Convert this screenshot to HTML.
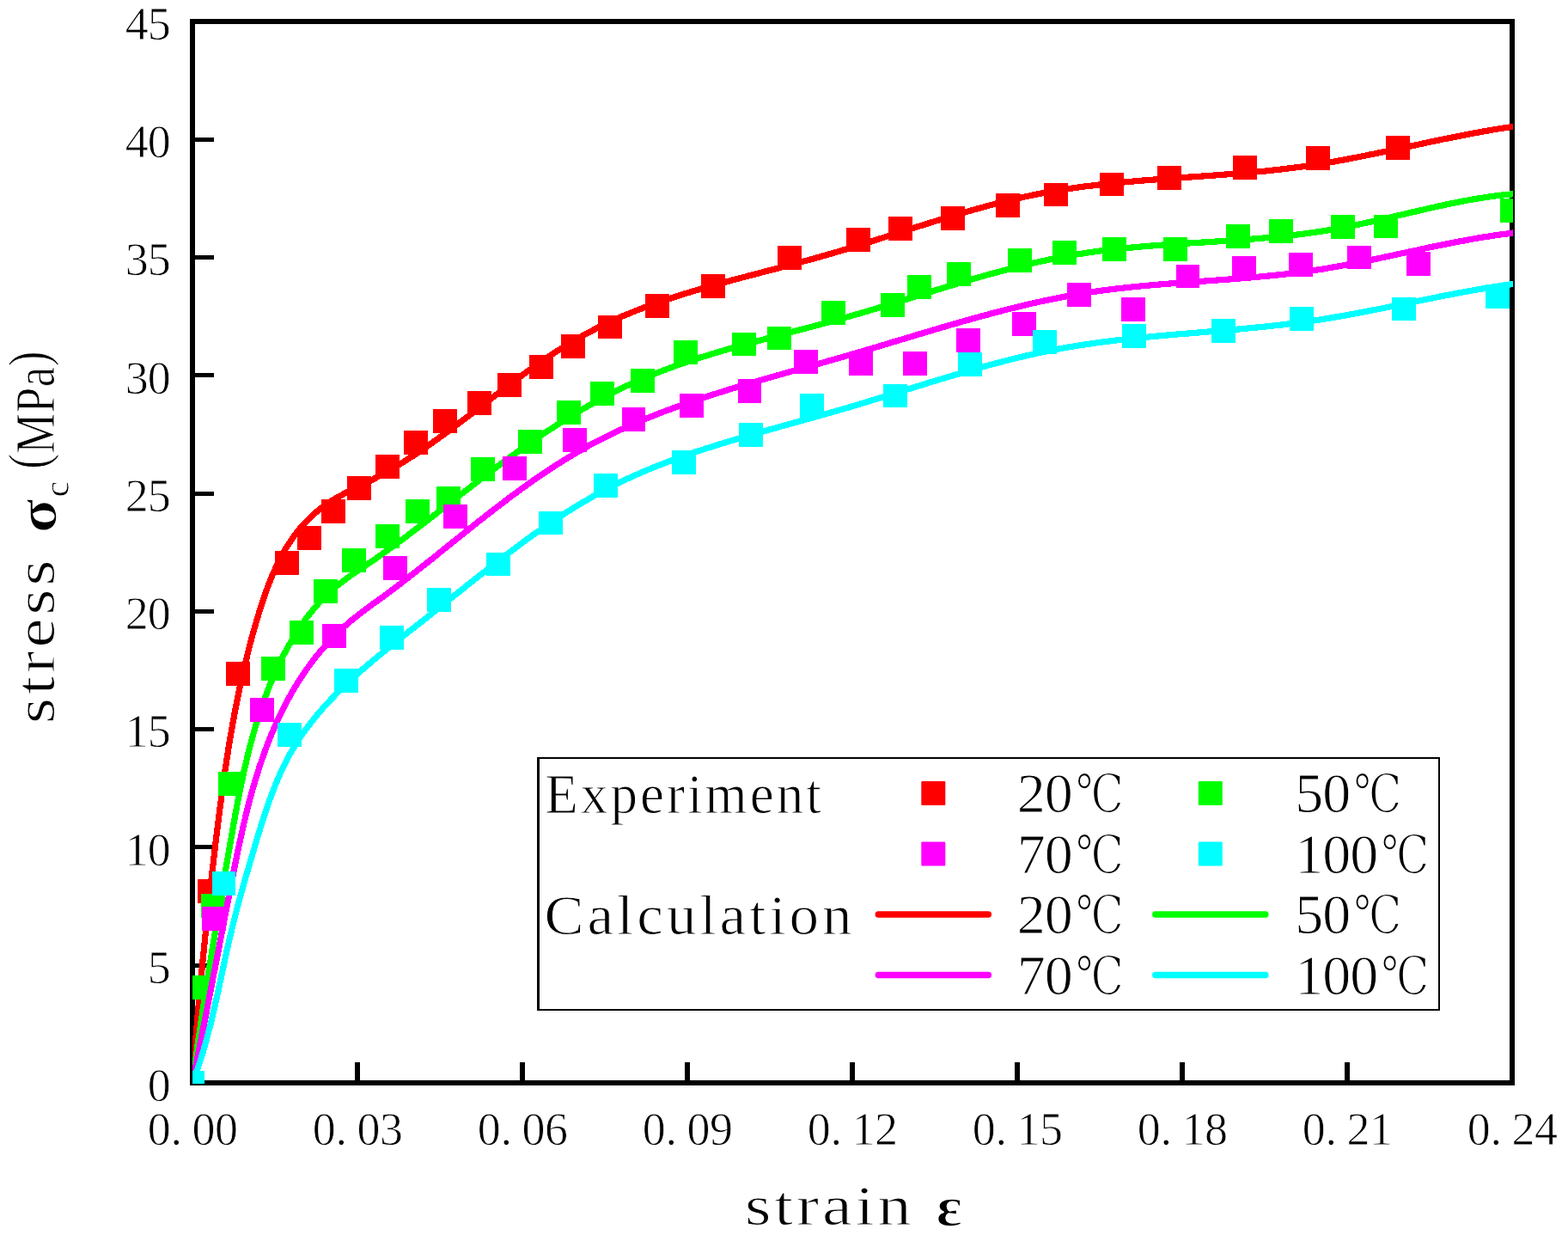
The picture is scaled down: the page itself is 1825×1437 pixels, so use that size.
<!DOCTYPE html>
<html lang="en">
<head>
<meta charset="utf-8">
<title>Stress-strain curves: experiment vs calculation</title>
<style>
html,body{margin:0;padding:0;background:#fff;}
body{width:1825px;height:1437px;overflow:hidden;}
svg{display:block;}
text{font-family:"Liberation Serif", "Noto Serif CJK SC", serif;fill:#000;font-kerning:none;}
.t{font-size:54px;}
.a{font-size:66px;}
.g{font-weight:bold;}
.d{font-family:"DejaVu Serif", "Noto Serif CJK SC", serif;font-size:62px;stroke-width:1.8px;}
</style>
</head>
<body>
<svg width="1825" height="1437" viewBox="0 0 1825 1437">
<rect x="0" y="0" width="1825" height="1437" fill="#fff"/>
<defs><clipPath id="c"><rect x="224" y="25" width="1537" height="1236"/></clipPath></defs>
<g stroke="#000" stroke-width="6" fill="none" shape-rendering="crispEdges">
<rect x="224" y="25" width="1536" height="1235"/>
<path d="M416,1260V1236M608,1260V1236M800,1260V1236M992,1260V1236M1184,1260V1236M1376,1260V1236M1568,1260V1236"/>
<path d="M224,1121h25v5h-25zM224,983h25v5h-25zM224,846h25v5h-25zM224,709h25v5h-25zM224,572h25v5h-25zM224,434h25v5h-25zM224,297h25v5h-25zM224,160h25v5h-25z" fill="#000" stroke="none"/>
</g>
<g class="t" stroke="#fff" stroke-width="0.8">
<text x="171.7" y="1281.0">0</text>
<text x="171.7" y="1143.8">5</text>
<text x="145.7 171.7" y="1006.6">10</text>
<text x="145.7 171.7" y="869.3">15</text>
<text x="145.7 171.7" y="732.1">20</text>
<text x="145.7 171.7" y="594.9">25</text>
<text x="145.7 171.7" y="457.7">30</text>
<text x="145.7 171.7" y="320.4">35</text>
<text x="145.7 171.7" y="183.2">40</text>
<text x="145.7 171.7" y="46.0">45</text>
<text x="171.7 198.4 223.5 249.9" y="1331.5">0.00</text>
<text x="363.7 390.4 415.5 441.9" y="1331.5">0.03</text>
<text x="555.7 582.4 607.5 633.9" y="1331.5">0.06</text>
<text x="747.7 774.4 799.5 825.9" y="1331.5">0.09</text>
<text x="939.7 966.4 991.5 1017.9" y="1331.5">0.12</text>
<text x="1131.7 1158.4 1183.5 1209.9" y="1331.5">0.15</text>
<text x="1323.7 1350.4 1375.5 1401.9" y="1331.5">0.18</text>
<text x="1515.7 1542.4 1567.5 1593.9" y="1331.5">0.21</text>
<text x="1707.7 1734.4 1759.5 1785.9" y="1331.5">0.24</text>
</g>
<text transform="translate(870.0,1425.0) scale(1.1853,1)" x="-2.64" y="0" style="font-size:66px;letter-spacing:3.37px;" stroke="#fff" stroke-width="1.0">strain</text>
<text transform="translate(1091.5,1425.5) scale(1.1012,1)" x="-1.79" y="0" style="font-size:65px;letter-spacing:2.72px;font-weight:bold;" stroke="#fff" stroke-width="1.5">ε</text>
<text transform="translate(62.5,839.0) rotate(-90) scale(1.1617,1)" x="-2.64" y="0" style="font-size:66px;letter-spacing:3.44px;" stroke="#fff" stroke-width="1.0">stress</text>
<text transform="translate(64.5,617.5) rotate(-90) scale(1.1354,1)" x="-2.44" y="0" style="font-size:65px;letter-spacing:2.64px;font-weight:bold;" stroke="#fff" stroke-width="1.5">σ</text>
<text transform="translate(79.6,577.0) rotate(-90) scale(1.0095,1)" x="-1.57" y="0" style="font-size:42px;letter-spacing:2.97px;" stroke="#fff" stroke-width="0.8">c</text>
<text transform="translate(62.6,543.6) rotate(-90) scale(0.8018,1)" x="-2.81" y="0" style="font-size:66px;letter-spacing:0.62px;" stroke="#fff" stroke-width="1.0" dy="-7.5 7.5 0 0 -7.5">(MPa)</text>
<g clip-path="url(#c)" shape-rendering="crispEdges">
<path d="M224.0,1260.0 L224.5,1253.2 L225.0,1246.4 L225.5,1239.6 L226.0,1232.8 L226.5,1226.0 L227.0,1219.2 L227.6,1212.4 L228.1,1205.5 L228.7,1198.7 L229.2,1191.9 L229.8,1185.1 L230.4,1178.2 L231.0,1171.4 L231.6,1164.6 L232.2,1157.7 L232.8,1150.9 L233.5,1144.1 L234.1,1137.2 L234.8,1130.4 L235.4,1123.6 L236.1,1116.7 L236.8,1109.9 L237.5,1103.1 L238.2,1096.2 L238.9,1089.4 L239.6,1082.6 L240.3,1075.7 L241.0,1068.9 L241.7,1062.1 L242.5,1055.2 L243.2,1048.4 L244.0,1041.6 L244.7,1034.8 L245.5,1028.0 L246.3,1021.1 L247.0,1014.3 L247.8,1007.5 L248.6,1000.7 L249.4,993.9 L250.2,987.1 L251.0,980.3 L251.8,973.5 L252.7,966.8 L253.5,960.0 L254.4,953.2 L255.2,946.4 L256.1,939.7 L257.0,932.9 L257.9,926.1 L258.8,919.4 L259.7,912.6 L260.7,905.9 L261.6,899.1 L262.6,892.4 L263.6,885.7 L264.7,878.9 L265.7,872.2 L266.8,865.5 L267.9,858.7 L269.1,852.0 L270.3,845.3 L271.5,838.6 L272.7,831.9 L274.0,825.2 L275.3,818.5 L276.6,811.8 L278.0,805.1 L279.4,798.4 L280.9,791.7 L282.4,785.0 L283.9,778.3 L285.5,771.6 L287.2,764.9 L288.8,758.2 L290.5,751.5 L292.3,744.9 L294.1,738.2 L296.0,731.5 L297.9,724.8 L299.9,718.2 L301.9,711.5 L304.0,704.9 L306.2,698.2 L308.4,691.6 L310.8,685.1 L313.3,678.6 L315.8,672.2 L318.5,665.8 L321.4,659.6 L324.3,653.4 L327.5,647.4 L330.8,641.4 L334.2,635.6 L337.9,630.0 L341.7,624.4 L345.8,619.1 L350.0,613.9 L354.5,608.8 L359.2,604.0 L364.1,599.4 L369.2,594.9 L374.5,590.7 L380.0,586.7 L385.6,583.0 L391.4,579.5 L397.3,576.2 L403.3,573.0 L409.3,570.0 L415.4,567.0 L421.6,564.0 L427.7,561.0 L433.8,557.9 L439.8,554.8 L445.8,551.5 L451.8,548.2 L457.7,544.8 L463.5,541.3 L469.4,537.7 L475.2,534.0 L480.9,530.3 L486.6,526.5 L492.3,522.7 L498.0,518.8 L503.6,514.8 L509.3,510.8 L514.9,506.8 L520.4,502.7 L526.0,498.6 L531.5,494.4 L537.1,490.3 L542.6,486.1 L548.1,481.9 L553.6,477.7 L559.1,473.5 L564.6,469.2 L570.1,465.0 L575.6,460.8 L581.1,456.6 L586.6,452.4 L592.1,448.3 L597.7,444.1 L603.2,440.0 L608.8,435.9 L614.3,431.9 L619.9,427.9 L625.5,423.9 L631.1,420.0 L636.8,416.2 L642.5,412.4 L648.2,408.6 L653.9,405.0 L659.7,401.4 L665.5,397.9 L671.4,394.4 L677.3,391.1 L683.2,387.8 L689.2,384.7 L695.2,381.6 L701.2,378.6 L707.3,375.7 L713.5,372.9 L719.6,370.1 L725.8,367.4 L732.1,364.8 L738.3,362.3 L744.6,359.8 L751.0,357.4 L757.3,355.1 L763.7,352.8 L770.1,350.6 L776.6,348.4 L783.0,346.2 L789.5,344.2 L796.0,342.1 L802.5,340.1 L809.1,338.1 L815.7,336.2 L822.2,334.3 L828.8,332.4 L835.4,330.6 L842.1,328.8 L848.7,327.0 L855.3,325.2 L862.0,323.4 L868.6,321.7 L875.3,319.9 L882.0,318.2 L888.6,316.4 L895.3,314.7 L902.0,313.0 L908.7,311.2 L915.3,309.5 L922.0,307.7 L928.7,305.9 L935.3,304.1 L942.0,302.3 L948.6,300.5 L955.3,298.6 L961.9,296.7 L968.5,294.8 L975.1,292.8 L981.7,290.9 L988.3,288.9 L994.9,286.9 L1001.5,284.8 L1008.0,282.8 L1014.6,280.7 L1021.1,278.7 L1027.7,276.6 L1034.2,274.5 L1040.8,272.4 L1047.3,270.3 L1053.9,268.3 L1060.4,266.2 L1066.9,264.1 L1073.5,262.1 L1080.0,260.0 L1086.5,258.0 L1093.1,255.9 L1099.6,253.9 L1106.1,252.0 L1112.7,250.0 L1119.2,248.1 L1125.8,246.2 L1132.3,244.3 L1138.9,242.5 L1145.5,240.7 L1152.0,238.9 L1158.6,237.2 L1165.2,235.5 L1171.8,233.8 L1178.4,232.3 L1185.1,230.7 L1191.7,229.2 L1198.4,227.8 L1205.0,226.4 L1211.7,225.1 L1218.4,223.8 L1225.1,222.6 L1231.8,221.5 L1238.5,220.4 L1245.2,219.4 L1252.0,218.4 L1258.8,217.5 L1265.5,216.6 L1272.3,215.8 L1279.1,215.0 L1285.9,214.2 L1292.7,213.5 L1299.5,212.8 L1306.3,212.1 L1313.2,211.5 L1320.0,210.9 L1326.8,210.3 L1333.7,209.8 L1340.5,209.2 L1347.4,208.7 L1354.2,208.2 L1361.1,207.7 L1368.0,207.2 L1374.8,206.7 L1381.7,206.2 L1388.6,205.8 L1395.4,205.3 L1402.3,204.8 L1409.2,204.3 L1416.0,203.8 L1422.9,203.3 L1429.7,202.8 L1436.6,202.2 L1443.4,201.7 L1450.3,201.1 L1457.1,200.5 L1464.0,199.8 L1470.8,199.2 L1477.6,198.5 L1484.4,197.7 L1491.2,197.0 L1498.0,196.2 L1504.8,195.3 L1511.6,194.4 L1518.4,193.5 L1525.1,192.5 L1531.9,191.5 L1538.6,190.4 L1545.4,189.3 L1552.1,188.1 L1558.8,186.9 L1565.5,185.7 L1572.2,184.4 L1578.9,183.1 L1585.6,181.8 L1592.3,180.4 L1599.0,179.1 L1605.7,177.7 L1612.4,176.3 L1619.0,174.9 L1625.7,173.5 L1632.4,172.1 L1639.1,170.6 L1645.8,169.2 L1652.4,167.8 L1659.1,166.3 L1665.8,164.9 L1672.5,163.5 L1679.2,162.1 L1685.9,160.8 L1692.6,159.4 L1699.4,158.1 L1706.1,156.8 L1712.8,155.5 L1719.6,154.2 L1726.3,153.0 L1733.1,151.8 L1739.9,150.6 L1746.7,149.5 L1753.5,148.5 L1760.3,147.4 L1767.1,146.5" fill="none" stroke="#ff0000" stroke-width="7.2" stroke-linejoin="round"/>
<path d="M210.1,1246.1h27.8v27.8h-27.8zM229.9,1022.9h27.8v27.8h-27.8zM263.1,770.2h27.8v27.8h-27.8zM320.1,641.1h27.8v27.8h-27.8zM346.2,612.0h27.8v27.8h-27.8zM373.7,580.9h27.8v27.8h-27.8zM404.1,554.2h27.8v27.8h-27.8zM437.0,529.2h27.8v27.8h-27.8zM470.2,501.2h27.8v27.8h-27.8zM504.1,476.2h27.8v27.8h-27.8zM544.1,454.7h27.8v27.8h-27.8zM579.3,434.0h27.8v27.8h-27.8zM616.0,412.9h27.8v27.8h-27.8zM653.1,388.8h27.8v27.8h-27.8zM696.0,366.6h27.8v27.8h-27.8zM751.0,342.0h27.8v27.8h-27.8zM816.1,319.0h27.8v27.8h-27.8zM905.3,286.2h27.8v27.8h-27.8zM985.1,264.7h27.8v27.8h-27.8zM1034.1,252.1h27.8v27.8h-27.8zM1095.0,240.0h27.8v27.8h-27.8zM1159.0,225.1h27.8v27.8h-27.8zM1215.1,212.6h27.8v27.8h-27.8zM1280.2,200.6h27.8v27.8h-27.8zM1347.1,193.0h27.8v27.8h-27.8zM1435.2,181.0h27.8v27.8h-27.8zM1520.2,170.1h27.8v27.8h-27.8zM1613.2,158.0h27.8v27.8h-27.8z" fill="#ff0000"/>
<path d="M224.0,1260.0 L224.9,1253.5 L225.8,1246.9 L226.7,1240.4 L227.6,1233.9 L228.5,1227.4 L229.4,1220.9 L230.3,1214.4 L231.2,1207.9 L232.2,1201.4 L233.1,1194.9 L234.1,1188.4 L235.1,1182.0 L236.0,1175.5 L237.0,1169.0 L238.0,1162.6 L239.0,1156.1 L240.0,1149.7 L241.0,1143.2 L242.0,1136.8 L243.0,1130.3 L244.0,1123.9 L245.1,1117.5 L246.1,1111.0 L247.1,1104.6 L248.2,1098.2 L249.2,1091.7 L250.3,1085.3 L251.4,1078.9 L252.4,1072.4 L253.5,1066.0 L254.6,1059.5 L255.6,1053.1 L256.7,1046.7 L257.8,1040.2 L258.9,1033.8 L260.0,1027.3 L261.1,1020.9 L262.2,1014.4 L263.3,1007.9 L264.5,1001.5 L265.6,995.0 L266.7,988.5 L267.8,982.0 L269.0,975.6 L270.1,969.1 L271.2,962.6 L272.4,956.1 L273.6,949.6 L274.8,943.1 L276.0,936.6 L277.2,930.1 L278.5,923.7 L279.8,917.2 L281.2,910.7 L282.5,904.3 L283.9,897.8 L285.4,891.4 L286.9,885.0 L288.4,878.6 L290.0,872.2 L291.6,865.9 L293.3,859.6 L295.1,853.2 L296.9,846.9 L298.8,840.7 L300.7,834.4 L302.7,828.2 L304.8,822.0 L307.0,815.9 L309.2,809.8 L311.5,803.7 L313.9,797.6 L316.4,791.6 L319.0,785.6 L321.6,779.6 L324.4,773.7 L327.2,767.9 L330.2,762.0 L333.2,756.3 L336.4,750.5 L339.7,744.9 L343.1,739.3 L346.6,733.7 L350.2,728.3 L353.9,723.0 L357.8,717.7 L361.8,712.6 L366.0,707.6 L370.2,702.7 L374.7,697.9 L379.2,693.3 L384.0,688.8 L388.9,684.5 L393.9,680.3 L399.1,676.3 L404.4,672.4 L409.8,668.6 L415.3,664.9 L420.8,661.2 L426.3,657.5 L431.7,653.8 L437.2,650.1 L442.5,646.3 L447.9,642.5 L453.2,638.7 L458.5,634.8 L463.8,631.0 L469.1,627.1 L474.3,623.2 L479.5,619.2 L484.7,615.3 L489.9,611.3 L495.1,607.4 L500.3,603.4 L505.4,599.4 L510.6,595.4 L515.7,591.4 L520.9,587.4 L526.0,583.4 L531.2,579.4 L536.3,575.4 L541.5,571.4 L546.7,567.4 L551.9,563.4 L557.0,559.4 L562.3,555.4 L567.5,551.5 L572.7,547.5 L578.0,543.6 L583.3,539.6 L588.6,535.7 L593.9,531.9 L599.2,528.0 L604.5,524.2 L609.9,520.4 L615.3,516.6 L620.7,512.8 L626.1,509.1 L631.5,505.4 L637.0,501.8 L642.5,498.2 L648.0,494.6 L653.5,491.1 L659.1,487.6 L664.7,484.1 L670.3,480.8 L675.9,477.4 L681.5,474.1 L687.2,470.9 L692.9,467.7 L698.6,464.6 L704.4,461.5 L710.2,458.5 L716.0,455.5 L721.8,452.7 L727.7,449.8 L733.6,447.1 L739.5,444.4 L745.4,441.8 L751.4,439.3 L757.4,436.8 L763.5,434.4 L769.5,432.0 L775.6,429.7 L781.7,427.4 L787.8,425.2 L794.0,423.1 L800.1,421.0 L806.3,418.9 L812.5,416.9 L818.8,414.9 L825.0,413.0 L831.3,411.1 L837.5,409.2 L843.8,407.3 L850.1,405.5 L856.4,403.7 L862.7,402.0 L869.1,400.2 L875.4,398.5 L881.7,396.8 L888.1,395.1 L894.5,393.4 L900.8,391.7 L907.2,390.0 L913.5,388.4 L919.9,386.7 L926.3,385.0 L932.7,383.4 L939.0,381.7 L945.4,380.0 L951.8,378.3 L958.1,376.6 L964.5,374.9 L970.8,373.2 L977.2,371.4 L983.5,369.6 L989.9,367.8 L996.2,366.0 L1002.5,364.2 L1008.8,362.3 L1015.1,360.4 L1021.4,358.5 L1027.7,356.6 L1034.0,354.7 L1040.3,352.8 L1046.5,350.9 L1052.8,348.9 L1059.1,347.0 L1065.3,345.0 L1071.6,343.1 L1077.9,341.1 L1084.1,339.2 L1090.4,337.3 L1096.7,335.4 L1102.9,333.5 L1109.2,331.6 L1115.5,329.7 L1121.7,327.8 L1128.0,326.0 L1134.3,324.1 L1140.5,322.3 L1146.8,320.5 L1153.1,318.8 L1159.4,317.1 L1165.7,315.4 L1172.0,313.7 L1178.3,312.1 L1184.6,310.5 L1190.9,308.9 L1197.3,307.4 L1203.6,305.9 L1209.9,304.5 L1216.3,303.1 L1222.7,301.7 L1229.1,300.4 L1235.4,299.2 L1241.8,298.0 L1248.3,296.9 L1254.7,295.8 L1261.1,294.8 L1267.6,293.8 L1274.0,292.9 L1280.5,292.0 L1287.0,291.2 L1293.5,290.5 L1300.0,289.7 L1306.5,289.0 L1313.0,288.4 L1319.6,287.8 L1326.1,287.2 L1332.6,286.6 L1339.2,286.1 L1345.7,285.6 L1352.3,285.1 L1358.9,284.6 L1365.4,284.2 L1372.0,283.8 L1378.6,283.3 L1385.2,282.9 L1391.7,282.5 L1398.3,282.1 L1404.9,281.7 L1411.5,281.3 L1418.1,280.8 L1424.6,280.4 L1431.2,280.0 L1437.8,279.5 L1444.4,279.1 L1450.9,278.6 L1457.5,278.1 L1464.0,277.6 L1470.6,277.0 L1477.1,276.4 L1483.7,275.8 L1490.2,275.2 L1496.8,274.5 L1503.3,273.8 L1509.8,273.0 L1516.3,272.2 L1522.8,271.3 L1529.3,270.4 L1535.7,269.5 L1542.2,268.5 L1548.7,267.4 L1555.1,266.3 L1561.5,265.1 L1567.9,263.9 L1574.4,262.6 L1580.7,261.3 L1587.1,259.9 L1593.5,258.5 L1599.9,257.1 L1606.3,255.7 L1612.7,254.2 L1619.0,252.7 L1625.4,251.2 L1631.8,249.7 L1638.1,248.2 L1644.5,246.7 L1650.9,245.3 L1657.3,243.8 L1663.6,242.3 L1670.0,240.9 L1676.4,239.5 L1682.8,238.1 L1689.2,236.8 L1695.7,235.5 L1702.1,234.2 L1708.5,233.0 L1715.0,231.9 L1721.5,230.8 L1727.9,229.8 L1734.4,228.8 L1741.0,227.9 L1747.5,227.1 L1754.1,226.4 L1760.6,225.8 L1767.2,225.2" fill="none" stroke="#00ff00" stroke-width="7.2" stroke-linejoin="round"/>
<path d="M210.1,1246.1h27.8v27.8h-27.8zM216.1,1134.9h27.8v27.8h-27.8zM234.0,1039.9h27.8v27.8h-27.8zM253.8,898.2h27.8v27.8h-27.8zM303.7,764.0h27.8v27.8h-27.8zM337.2,722.2h27.8v27.8h-27.8zM365.3,674.0h27.8v27.8h-27.8zM398.2,638.1h27.8v27.8h-27.8zM437.0,610.0h27.8v27.8h-27.8zM472.3,580.9h27.8v27.8h-27.8zM508.0,566.1h27.8v27.8h-27.8zM548.0,532.1h27.8v27.8h-27.8zM603.1,500.1h27.8v27.8h-27.8zM648.2,466.1h27.8v27.8h-27.8zM687.3,444.0h27.8v27.8h-27.8zM734.0,428.9h27.8v27.8h-27.8zM784.1,396.0h27.8v27.8h-27.8zM852.2,386.5h27.8v27.8h-27.8zM893.2,379.5h27.8v27.8h-27.8zM956.2,350.0h27.8v27.8h-27.8zM1025.1,341.1h27.8v27.8h-27.8zM1056.2,320.1h27.8v27.8h-27.8zM1102.2,305.1h27.8v27.8h-27.8zM1173.1,289.1h27.8v27.8h-27.8zM1225.2,280.1h27.8v27.8h-27.8zM1283.1,276.2h27.8v27.8h-27.8zM1354.1,276.2h27.8v27.8h-27.8zM1427.1,261.0h27.8v27.8h-27.8zM1477.1,255.1h27.8v27.8h-27.8zM1549.2,250.1h27.8v27.8h-27.8zM1599.1,249.5h27.8v27.8h-27.8zM1745.9,231.1h27.8v27.8h-27.8z" fill="#00ff00"/>
<path d="M224.0,1260.0 L225.3,1253.7 L226.5,1247.3 L227.8,1241.0 L229.0,1234.7 L230.3,1228.4 L231.5,1222.1 L232.7,1215.8 L234.0,1209.5 L235.2,1203.3 L236.4,1197.0 L237.7,1190.8 L238.9,1184.5 L240.1,1178.3 L241.3,1172.0 L242.6,1165.8 L243.8,1159.5 L245.0,1153.3 L246.2,1147.1 L247.4,1140.8 L248.6,1134.6 L249.9,1128.4 L251.1,1122.1 L252.3,1115.9 L253.5,1109.7 L254.7,1103.4 L255.9,1097.2 L257.1,1091.0 L258.3,1084.7 L259.5,1078.5 L260.7,1072.2 L261.9,1065.9 L263.1,1059.7 L264.3,1053.4 L265.6,1047.1 L266.8,1040.8 L268.0,1034.5 L269.2,1028.2 L270.4,1021.9 L271.7,1015.6 L272.9,1009.2 L274.2,1002.9 L275.5,996.6 L276.8,990.3 L278.1,984.0 L279.5,977.7 L280.9,971.4 L282.3,965.1 L283.7,958.8 L285.2,952.6 L286.7,946.3 L288.3,940.1 L289.9,933.8 L291.5,927.6 L293.2,921.4 L295.0,915.3 L296.8,909.1 L298.6,903.0 L300.6,896.9 L302.5,890.8 L304.6,884.7 L306.7,878.7 L308.8,872.7 L311.1,866.8 L313.4,860.8 L315.8,854.9 L318.2,849.1 L320.8,843.2 L323.4,837.4 L326.1,831.7 L328.9,826.0 L331.8,820.3 L334.8,814.7 L337.8,809.1 L341.0,803.6 L344.3,798.1 L347.6,792.7 L351.1,787.3 L354.6,782.0 L358.3,776.8 L362.0,771.7 L365.8,766.6 L369.8,761.6 L373.8,756.8 L378.0,752.0 L382.2,747.3 L386.6,742.7 L391.0,738.2 L395.6,733.8 L400.3,729.5 L405.1,725.3 L409.9,721.2 L414.9,717.3 L419.9,713.4 L425.0,709.5 L430.2,705.7 L435.3,701.9 L440.5,698.2 L445.7,694.4 L450.8,690.6 L455.9,686.7 L461.1,682.9 L466.2,679.0 L471.3,675.1 L476.3,671.2 L481.4,667.2 L486.5,663.2 L491.5,659.3 L496.5,655.3 L501.6,651.3 L506.6,647.3 L511.6,643.2 L516.6,639.2 L521.6,635.2 L526.6,631.2 L531.6,627.1 L536.7,623.1 L541.7,619.1 L546.7,615.1 L551.7,611.1 L556.7,607.1 L561.8,603.1 L566.8,599.2 L571.9,595.2 L576.9,591.3 L582.0,587.4 L587.1,583.6 L592.2,579.7 L597.3,575.9 L602.5,572.1 L607.6,568.3 L612.8,564.6 L618.0,560.9 L623.2,557.3 L628.5,553.7 L633.7,550.1 L639.0,546.6 L644.4,543.1 L649.7,539.7 L655.1,536.3 L660.5,532.9 L665.9,529.7 L671.4,526.4 L676.9,523.3 L682.4,520.2 L688.0,517.1 L693.6,514.2 L699.3,511.2 L704.9,508.4 L710.6,505.6 L716.4,502.8 L722.2,500.1 L728.0,497.5 L733.8,494.9 L739.6,492.3 L745.5,489.8 L751.4,487.4 L757.3,485.0 L763.3,482.6 L769.2,480.3 L775.2,478.0 L781.2,475.8 L787.3,473.6 L793.3,471.4 L799.3,469.3 L805.4,467.2 L811.5,465.2 L817.6,463.1 L823.7,461.1 L829.8,459.2 L835.9,457.2 L842.0,455.3 L848.1,453.4 L854.2,451.5 L860.4,449.7 L866.5,447.8 L872.6,446.0 L878.8,444.2 L884.9,442.5 L891.0,440.7 L897.2,438.9 L903.3,437.2 L909.5,435.4 L915.6,433.7 L921.7,432.0 L927.9,430.3 L934.0,428.5 L940.2,426.8 L946.3,425.1 L952.4,423.4 L958.6,421.7 L964.7,419.9 L970.9,418.2 L977.0,416.4 L983.1,414.7 L989.3,412.9 L995.4,411.1 L1001.5,409.3 L1007.7,407.5 L1013.8,405.7 L1019.9,403.9 L1026.1,402.0 L1032.2,400.2 L1038.3,398.3 L1044.5,396.5 L1050.6,394.7 L1056.7,392.8 L1062.9,391.0 L1069.0,389.1 L1075.1,387.3 L1081.3,385.5 L1087.4,383.6 L1093.5,381.8 L1099.7,380.0 L1105.8,378.2 L1112.0,376.5 L1118.1,374.7 L1124.3,373.0 L1130.5,371.2 L1136.6,369.5 L1142.8,367.8 L1149.0,366.2 L1155.1,364.5 L1161.3,362.9 L1167.5,361.3 L1173.7,359.7 L1179.9,358.2 L1186.1,356.7 L1192.3,355.2 L1198.5,353.7 L1204.7,352.3 L1211.0,350.9 L1217.2,349.6 L1223.4,348.3 L1229.7,347.0 L1236.0,345.8 L1242.2,344.6 L1248.5,343.5 L1254.8,342.4 L1261.1,341.3 L1267.4,340.3 L1273.7,339.4 L1280.0,338.5 L1286.3,337.6 L1292.6,336.8 L1299.0,336.0 L1305.3,335.3 L1311.6,334.6 L1318.0,333.9 L1324.4,333.3 L1330.7,332.6 L1337.1,332.1 L1343.5,331.5 L1349.9,331.0 L1356.2,330.4 L1362.6,329.9 L1369.0,329.4 L1375.4,329.0 L1381.8,328.5 L1388.2,328.0 L1394.6,327.6 L1401.0,327.1 L1407.4,326.7 L1413.8,326.2 L1420.2,325.7 L1426.6,325.3 L1433.0,324.8 L1439.3,324.3 L1445.7,323.8 L1452.1,323.3 L1458.5,322.7 L1464.9,322.1 L1471.2,321.6 L1477.6,320.9 L1484.0,320.3 L1490.3,319.6 L1496.7,318.9 L1503.0,318.1 L1509.4,317.4 L1515.7,316.5 L1522.0,315.6 L1528.4,314.7 L1534.7,313.8 L1541.0,312.8 L1547.3,311.7 L1553.6,310.6 L1559.8,309.5 L1566.1,308.3 L1572.4,307.1 L1578.7,305.9 L1584.9,304.6 L1591.2,303.4 L1597.4,302.1 L1603.7,300.8 L1610.0,299.5 L1616.2,298.1 L1622.5,296.8 L1628.7,295.4 L1635.0,294.1 L1641.2,292.8 L1647.5,291.4 L1653.7,290.1 L1660.0,288.7 L1666.2,287.4 L1672.5,286.1 L1678.7,284.9 L1685.0,283.6 L1691.3,282.4 L1697.6,281.1 L1703.8,280.0 L1710.1,278.8 L1716.4,277.7 L1722.7,276.6 L1729.0,275.6 L1735.4,274.6 L1741.7,273.6 L1748.0,272.8 L1754.4,271.9 L1760.7,271.1 L1767.1,270.4" fill="none" stroke="#ff00ff" stroke-width="7.2" stroke-linejoin="round"/>
<path d="M210.1,1246.1h27.8v27.8h-27.8zM235.1,1054.7h27.8v27.8h-27.8zM291.3,812.0h27.8v27.8h-27.8zM375.1,726.1h27.8v27.8h-27.8zM446.0,647.1h27.8v27.8h-27.8zM516.0,587.0h27.8v27.8h-27.8zM584.9,531.1h27.8v27.8h-27.8zM655.3,497.9h27.8v27.8h-27.8zM723.5,474.0h27.8v27.8h-27.8zM791.0,458.1h27.8v27.8h-27.8zM858.6,441.1h27.8v27.8h-27.8zM924.2,407.1h27.8v27.8h-27.8zM988.0,409.1h27.8v27.8h-27.8zM1051.0,409.0h27.8v27.8h-27.8zM1113.0,382.0h27.8v27.8h-27.8zM1178.1,363.0h27.8v27.8h-27.8zM1241.7,329.0h27.8v27.8h-27.8zM1305.2,345.7h27.8v27.8h-27.8zM1368.6,307.5h27.8v27.8h-27.8zM1434.1,298.0h27.8v27.8h-27.8zM1500.3,293.7h27.8v27.8h-27.8zM1568.0,285.6h27.8v27.8h-27.8zM1637.3,293.1h27.8v27.8h-27.8z" fill="#ff00ff"/>
<path d="M224.0,1260.0 L226.2,1254.2 L228.3,1248.4 L230.3,1242.6 L232.3,1236.7 L234.2,1230.9 L236.0,1225.0 L237.7,1219.0 L239.4,1213.1 L241.1,1207.1 L242.6,1201.2 L244.2,1195.2 L245.7,1189.2 L247.1,1183.1 L248.6,1177.1 L250.0,1171.1 L251.3,1165.0 L252.7,1159.0 L254.0,1152.9 L255.3,1146.9 L256.6,1140.8 L257.9,1134.7 L259.2,1128.7 L260.5,1122.6 L261.8,1116.6 L263.1,1110.5 L264.4,1104.5 L265.8,1098.5 L267.2,1092.5 L268.6,1086.5 L270.0,1080.5 L271.5,1074.5 L273.0,1068.5 L274.5,1062.6 L276.0,1056.6 L277.6,1050.7 L279.2,1044.7 L280.9,1038.8 L282.5,1032.9 L284.2,1026.9 L285.9,1021.0 L287.6,1015.0 L289.4,1009.1 L291.1,1003.1 L292.9,997.1 L294.7,991.1 L296.4,985.1 L298.3,979.1 L300.1,973.0 L301.9,967.0 L303.8,960.9 L305.7,954.9 L307.7,948.9 L309.6,942.9 L311.7,936.9 L313.8,930.9 L316.0,925.0 L318.2,919.1 L320.5,913.3 L322.9,907.5 L325.4,901.8 L327.9,896.2 L330.6,890.6 L333.4,885.1 L336.3,879.6 L339.3,874.3 L342.4,869.0 L345.6,863.9 L348.9,858.8 L352.3,853.8 L355.8,848.8 L359.5,844.0 L363.2,839.2 L367.0,834.5 L370.9,829.8 L374.8,825.2 L378.9,820.7 L383.0,816.2 L387.2,811.8 L391.5,807.4 L395.8,803.1 L400.2,798.9 L404.6,794.6 L409.1,790.5 L413.7,786.3 L418.3,782.2 L423.0,778.1 L427.6,774.1 L432.4,770.1 L437.1,766.1 L441.9,762.1 L446.8,758.2 L451.6,754.3 L456.5,750.4 L461.4,746.5 L466.3,742.6 L471.2,738.7 L476.1,734.8 L481.0,731.0 L486.0,727.1 L490.9,723.2 L495.8,719.4 L500.7,715.5 L505.6,711.6 L510.5,707.7 L515.4,703.8 L520.3,699.9 L525.1,696.0 L530.0,692.1 L534.9,688.2 L539.8,684.3 L544.6,680.4 L549.5,676.6 L554.4,672.7 L559.3,668.8 L564.2,665.0 L569.1,661.2 L573.9,657.3 L578.9,653.5 L583.8,649.8 L588.7,646.0 L593.6,642.3 L598.6,638.5 L603.5,634.9 L608.5,631.2 L613.5,627.5 L618.5,623.9 L623.5,620.4 L628.5,616.8 L633.6,613.3 L638.7,609.8 L643.8,606.4 L648.9,603.0 L654.0,599.6 L659.2,596.3 L664.4,593.0 L669.6,589.8 L674.9,586.6 L680.2,583.5 L685.5,580.4 L690.8,577.3 L696.2,574.3 L701.6,571.4 L707.0,568.5 L712.5,565.7 L718.0,562.9 L723.5,560.2 L729.1,557.6 L734.7,555.0 L740.4,552.5 L746.1,550.0 L751.8,547.5 L757.5,545.2 L763.3,542.8 L769.1,540.6 L774.9,538.3 L780.7,536.1 L786.6,534.0 L792.4,531.9 L798.3,529.8 L804.2,527.7 L810.1,525.7 L816.1,523.8 L822.0,521.8 L828.0,519.9 L833.9,518.1 L839.9,516.2 L845.8,514.4 L851.8,512.6 L857.8,510.8 L863.7,509.1 L869.7,507.3 L875.7,505.6 L881.6,503.9 L887.6,502.2 L893.5,500.5 L899.5,498.9 L905.5,497.2 L911.4,495.5 L917.4,493.9 L923.3,492.2 L929.3,490.6 L935.2,488.9 L941.2,487.3 L947.1,485.6 L953.0,484.0 L959.0,482.3 L964.9,480.6 L970.9,478.9 L976.8,477.2 L982.7,475.5 L988.7,473.8 L994.6,472.0 L1000.5,470.2 L1006.5,468.4 L1012.4,466.6 L1018.3,464.8 L1024.3,463.0 L1030.2,461.2 L1036.1,459.3 L1042.1,457.5 L1048.0,455.7 L1053.9,453.8 L1059.9,452.0 L1065.8,450.1 L1071.7,448.3 L1077.7,446.5 L1083.6,444.6 L1089.6,442.8 L1095.5,441.0 L1101.5,439.2 L1107.4,437.4 L1113.4,435.7 L1119.3,433.9 L1125.3,432.2 L1131.3,430.4 L1137.2,428.7 L1143.2,427.1 L1149.2,425.4 L1155.2,423.8 L1161.2,422.2 L1167.2,420.6 L1173.2,419.1 L1179.2,417.6 L1185.2,416.1 L1191.2,414.7 L1197.3,413.3 L1203.3,411.9 L1209.3,410.6 L1215.4,409.3 L1221.4,408.1 L1227.5,406.9 L1233.6,405.7 L1239.7,404.6 L1245.8,403.6 L1251.9,402.6 L1258.0,401.6 L1264.1,400.7 L1270.2,399.8 L1276.3,398.9 L1282.5,398.1 L1288.6,397.3 L1294.7,396.5 L1300.9,395.8 L1307.0,395.1 L1313.2,394.4 L1319.4,393.7 L1325.5,393.1 L1331.7,392.5 L1337.9,391.9 L1344.0,391.3 L1350.2,390.8 L1356.4,390.2 L1362.6,389.7 L1368.8,389.1 L1375.0,388.6 L1381.1,388.1 L1387.3,387.6 L1393.5,387.1 L1399.7,386.6 L1405.9,386.0 L1412.1,385.5 L1418.3,385.0 L1424.5,384.5 L1430.7,384.0 L1436.8,383.4 L1443.0,382.9 L1449.2,382.3 L1455.4,381.7 L1461.6,381.1 L1467.7,380.5 L1473.9,379.9 L1480.1,379.2 L1486.2,378.6 L1492.4,377.9 L1498.6,377.1 L1504.7,376.4 L1510.9,375.6 L1517.0,374.8 L1523.1,373.9 L1529.3,373.0 L1535.4,372.1 L1541.5,371.1 L1547.6,370.1 L1553.7,369.1 L1559.8,368.0 L1565.9,367.0 L1572.0,365.9 L1578.1,364.7 L1584.2,363.6 L1590.3,362.4 L1596.4,361.2 L1602.4,360.0 L1608.5,358.8 L1614.6,357.6 L1620.7,356.4 L1626.7,355.1 L1632.8,353.9 L1638.9,352.6 L1645.0,351.4 L1651.0,350.1 L1657.1,348.9 L1663.2,347.7 L1669.3,346.5 L1675.3,345.2 L1681.4,344.0 L1687.5,342.9 L1693.6,341.7 L1699.7,340.5 L1705.8,339.4 L1711.9,338.3 L1718.0,337.2 L1724.1,336.2 L1730.2,335.1 L1736.3,334.1 L1742.5,333.2 L1748.6,332.2 L1754.7,331.3 L1760.9,330.5 L1767.0,329.7" fill="none" stroke="#00ffff" stroke-width="7.2" stroke-linejoin="round"/>
<path d="M210.1,1246.1h27.8v27.8h-27.8zM246.6,1013.8h27.8v27.8h-27.8zM322.7,841.2h27.8v27.8h-27.8zM389.2,778.0h27.8v27.8h-27.8zM441.7,728.1h27.8v27.8h-27.8zM497.3,684.1h27.8v27.8h-27.8zM566.1,642.6h27.8v27.8h-27.8zM627.1,594.6h27.8v27.8h-27.8zM691.1,551.1h27.8v27.8h-27.8zM781.7,524.1h27.8v27.8h-27.8zM860.1,492.3h27.8v27.8h-27.8zM931.2,458.1h27.8v27.8h-27.8zM1028.2,446.5h27.8v27.8h-27.8zM1115.2,410.0h27.8v27.8h-27.8zM1202.2,384.1h27.8v27.8h-27.8zM1305.7,377.1h27.8v27.8h-27.8zM1410.2,370.9h27.8v27.8h-27.8zM1501.2,357.0h27.8v27.8h-27.8zM1620.2,345.6h27.8v27.8h-27.8zM1729.3,331.2h27.8v27.8h-27.8z" fill="#00ffff"/>
</g>
<rect x="625" y="881" width="1051" height="295" fill="#000" shape-rendering="crispEdges"/>
<rect x="628" y="883" width="1046" height="291" fill="#fff" shape-rendering="crispEdges"/>
<text transform="translate(636.0,945.5) scale(0.9567,1)" x="-1.81" y="0" style="font-size:66px;letter-spacing:3.14px;" stroke="#fff" stroke-width="1.0">Experiment</text>
<text transform="translate(636.2,1087.0) scale(1.0461,1)" x="-2.64" y="0" style="font-size:66px;letter-spacing:3.82px;" stroke="#fff" stroke-width="1.0">Calculation</text>
<rect x="1072.3" y="909.0" width="28" height="28" rx="1" fill="#ff0000"/>
<text class="a" x="1183.7 1215.7" y="945.2" stroke="#fff" stroke-width="1">20<tspan class="d" x="1252.0" textLength="56" lengthAdjust="spacingAndGlyphs">℃</tspan></text>
<rect x="1394.8" y="909.0" width="28" height="28" rx="1" fill="#00ff00"/>
<text class="a" x="1507.2 1539.2" y="945.2" stroke="#fff" stroke-width="1">50<tspan class="d" x="1575.5" textLength="56" lengthAdjust="spacingAndGlyphs">℃</tspan></text>
<rect x="1072.3" y="979.5" width="28" height="28" rx="1" fill="#ff00ff"/>
<text class="a" x="1183.7 1215.7" y="1015.8" stroke="#fff" stroke-width="1">70<tspan class="d" x="1252.0" textLength="56" lengthAdjust="spacingAndGlyphs">℃</tspan></text>
<rect x="1394.8" y="979.5" width="28" height="28" rx="1" fill="#00ffff"/>
<text class="a" x="1507.2 1539.2 1571.2" y="1015.8" stroke="#fff" stroke-width="1">100<tspan class="d" x="1607.5" textLength="56" lengthAdjust="spacingAndGlyphs">℃</tspan></text>
<path d="M1022.3,1064H1150.3" stroke="#ff0000" stroke-width="7.5" stroke-linecap="round" fill="none"/>
<text class="a" x="1183.7 1215.7" y="1086.4" stroke="#fff" stroke-width="1">20<tspan class="d" x="1252.0" textLength="56" lengthAdjust="spacingAndGlyphs">℃</tspan></text>
<path d="M1344.8,1064H1472.8" stroke="#00ff00" stroke-width="7.5" stroke-linecap="round" fill="none"/>
<text class="a" x="1507.2 1539.2" y="1086.4" stroke="#fff" stroke-width="1">50<tspan class="d" x="1575.5" textLength="56" lengthAdjust="spacingAndGlyphs">℃</tspan></text>
<path d="M1022.3,1134.6H1150.3" stroke="#ff00ff" stroke-width="7.5" stroke-linecap="round" fill="none"/>
<text class="a" x="1183.7 1215.7" y="1157" stroke="#fff" stroke-width="1">70<tspan class="d" x="1252.0" textLength="56" lengthAdjust="spacingAndGlyphs">℃</tspan></text>
<path d="M1344.8,1134.6H1472.8" stroke="#00ffff" stroke-width="7.5" stroke-linecap="round" fill="none"/>
<text class="a" x="1507.2 1539.2 1571.2" y="1157" stroke="#fff" stroke-width="1">100<tspan class="d" x="1607.5" textLength="56" lengthAdjust="spacingAndGlyphs">℃</tspan></text>
</svg>
</body>
</html>
